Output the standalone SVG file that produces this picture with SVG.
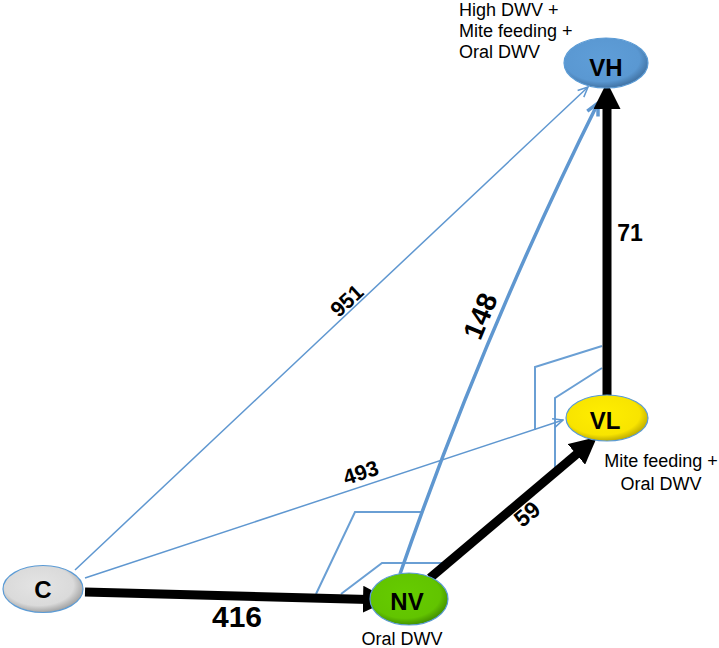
<svg xmlns="http://www.w3.org/2000/svg" width="719" height="648" viewBox="0 0 719 648">
<style>
.lbl{font-family:"Liberation Sans",Arial,sans-serif;font-size:18px;fill:#000}
.node{font-family:"Liberation Sans",Arial,sans-serif;font-weight:bold;font-size:24px;fill:#000;text-anchor:middle}
.num{font-family:"Liberation Sans",Arial,sans-serif;font-weight:bold;fill:#000;text-anchor:middle}
.blk{stroke:#000;stroke-width:9;fill:none;marker-end:url(#ab)}
.thin{stroke:#5f97d0;stroke-width:1.5;fill:none;marker-end:url(#at)}
.mid{stroke:#5f97d0;stroke-width:3.5;fill:none;marker-end:url(#am)}
.brk{stroke:#6a9fd4;stroke-width:2;fill:none}
.ell{stroke:#5b9bd5;stroke-width:1.2}
</style>
<defs>
<marker id="ab" viewBox="0 0 10 10" refX="2" refY="5" markerWidth="3" markerHeight="3" orient="auto" markerUnits="strokeWidth">
<path d="M0,0 L10,5 L0,10 Z" fill="#000"/>
</marker>
<marker id="at" viewBox="0 0 12 12" refX="11" refY="6" markerWidth="12" markerHeight="12" orient="auto" markerUnits="userSpaceOnUse">
<path d="M1,1.5 L11,6 L1,10.5" fill="none" stroke="#5f97d0" stroke-width="1.5"/>
</marker>
<marker id="am" viewBox="0 0 16 16" refX="14" refY="8" markerWidth="16" markerHeight="16" orient="auto" markerUnits="userSpaceOnUse">
<path d="M2,2 L14,8 L2,14" fill="none" stroke="#5f97d0" stroke-width="3.5" stroke-linejoin="miter"/>
</marker>
<radialGradient id="gC" cx="0.45" cy="0.42" r="0.6">
<stop offset="0" stop-color="#e4e4e4"/><stop offset="0.72" stop-color="#dadada"/><stop offset="1" stop-color="#9c9c9c"/>
</radialGradient>
<radialGradient id="gN" cx="0.45" cy="0.42" r="0.6">
<stop offset="0" stop-color="#66cc00"/><stop offset="0.75" stop-color="#62c400"/><stop offset="1" stop-color="#3f8a00"/>
</radialGradient>
<radialGradient id="gL" cx="0.45" cy="0.42" r="0.6">
<stop offset="0" stop-color="#ffee00"/><stop offset="0.75" stop-color="#f8e400"/><stop offset="1" stop-color="#b8a600"/>
</radialGradient>
<radialGradient id="gH" cx="0.45" cy="0.42" r="0.6">
<stop offset="0" stop-color="#5f9ed8"/><stop offset="0.75" stop-color="#5a98d2"/><stop offset="1" stop-color="#3e6e9e"/>
</radialGradient>
</defs>

<g id="connectors">
<polyline class="brk" points="316,594 355,512 421,512"/>
<polyline class="brk" points="341,594 382,563 442,563"/>
<polyline class="brk" points="535,430 535,367 602,346"/>
<polyline class="brk" points="555,468 555,398 602,368"/>
<line class="thin" x1="75" y1="570" x2="588" y2="87"/>
<line class="thin" x1="85" y1="578" x2="563" y2="420"/>
<path class="mid" d="M400,574 Q484,332 598,103"/>
<line class="blk" x1="85" y1="592" x2="368.4" y2="599.4"/>
<line class="blk" x1="430" y1="578" x2="580.5" y2="450.9"/>
<line class="blk" x1="607" y1="397" x2="607" y2="103.6"/>
<text class="num" font-size="30" x="237" y="627">416</text>
<text class="num" font-size="23" x="630" y="241">71</text>
<text class="num" font-size="23" transform="translate(527,514) rotate(-40)" y="8">59</text>
<text class="num" font-size="21.5" transform="translate(347,301) rotate(-43)" y="7">951</text>
<text class="num" font-size="21.5" transform="translate(361,473) rotate(-18)" y="7">493</text>
<text class="num" font-size="28" transform="translate(480,316) rotate(-67.6)" y="10">148</text>
</g>

<g id="node-C">
<ellipse class="ell" cx="43" cy="589" rx="40" ry="23.5" fill="url(#gC)"/>
<text class="node" x="43" y="598">C</text>
</g>
<g id="node-NV">
<ellipse class="ell" cx="409" cy="599" rx="39" ry="26" fill="url(#gN)"/>
<text class="node" x="407" y="610">NV</text>
<text class="lbl" x="402" y="645" text-anchor="middle">Oral DWV</text>
</g>
<g id="node-VL">
<ellipse class="ell" cx="607" cy="418" rx="41" ry="23" fill="url(#gL)"/>
<text class="node" x="605" y="428.5">VL</text>
<text class="lbl" x="661" y="467" text-anchor="middle">Mite feeding +</text>
<text class="lbl" x="661" y="490" text-anchor="middle">Oral DWV</text>
</g>
<g id="node-VH">
<ellipse class="ell" cx="606" cy="63" rx="42" ry="25" fill="url(#gH)"/>
<text class="node" x="606" y="75.5">VH</text>
<text class="lbl" x="459" y="16">High DWV +</text>
<text class="lbl" x="459" y="37">Mite feeding +</text>
<text class="lbl" x="459" y="58">Oral DWV</text>
</g>
</svg>
